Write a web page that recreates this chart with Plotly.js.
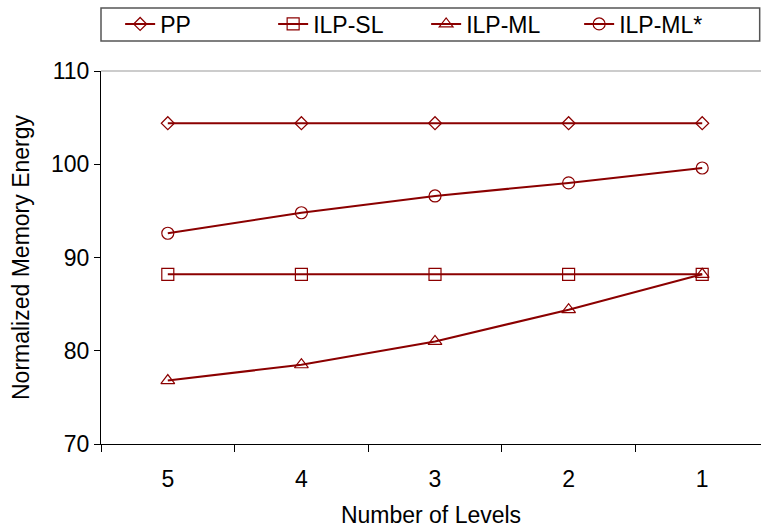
<!DOCTYPE html>
<html><head><meta charset="utf-8">
<script src="https://cdn.plot.ly/plotly-3.0.1.min.js"></script>
<style>html,body{margin:0;padding:0;background:#fff}#c{width:761px;height:529px}</style>
</head><body><div id="c"></div>
<script>
const levels = ["5", "4", "3", "2", "1"];
const pp = [104.4, 104.4, 104.4, 104.4, 104.4];
const ilpSL = [88.2, 88.2, 88.2, 88.2, 88.2];
const ilpML = [76.8, 78.5, 81.0, 84.4, 88.2];
const ilpMLstar = [92.6, 94.8, 96.6, 98.0, 99.6];
const names = ["PP", "ILP-SL", "ILP-ML", "ILP-ML*"];
const symbols = ["diamond-open", "square-open", "triangle-up-open", "circle-open"];
const sizes = [10, 12, 12, 12];
const series = [pp, ilpSL, ilpML, ilpMLstar];
const col = "#8b0000";
const traces = series.map((s, i) => ({
  x: levels, y: s, name: names[i], type: "scatter", mode: "lines+markers",
  line: {color: col, width: 2},
  marker: {symbol: symbols[i], size: sizes[i], color: col, line: {color: col, width: 1.2}}
}));
const layout = {
  width: 761, height: 529,
  margin: {l: 101, r: 0, t: 71, b: 85},
  paper_bgcolor: "#fff", plot_bgcolor: "#fff",
  font: {family: "Liberation Sans, Arial, sans-serif", size: 23, color: "#000"},
  showlegend: true,
  legend: {orientation: "h", x: 0.029, xanchor: "left", y: 1.126, yanchor: "middle",
    font: {size: 23}, entrywidth: 108, bgcolor: "rgba(0,0,0,0)"},
  xaxis: {type: "category", range: [-0.5, 4.44], tickson: "boundaries",
    ticks: "outside", ticklen: 7, tickcolor: "#000", tickwidth: 1,
    showline: true, linecolor: "#000", linewidth: 1, showgrid: false, zeroline: false,
    tickfont: {size: 23}, ticklabelstandoff: 14,
    title: {text: "Number of Levels", font: {size: 23}, standoff: 16}},
  yaxis: {range: [70, 110], tickvals: [70, 80, 90, 100, 110],
    ticks: "outside", ticklen: 6, tickcolor: "#000", tickwidth: 1,
    showline: true, linecolor: "#000", linewidth: 1, showgrid: false, zeroline: false,
    tickfont: {size: 23},
    title: {text: "Normalized Memory Energy", font: {size: 23}, standoff: 14}},
  shapes: [
    {type: "line", xref: "paper", yref: "paper", x0: 0, x1: 1, y0: 1, y1: 1, line: {color: "#999", width: 1}},
    {type: "rect", xref: "paper", yref: "paper", x0: 0, x1: 0.998, y0: 1.0804, y1: 1.169, line: {color: "#555", width: 1.5}}
  ]
};
Plotly.newPlot("c", traces, layout, {displayModeBar: false, staticPlot: true});
</script></body></html>
